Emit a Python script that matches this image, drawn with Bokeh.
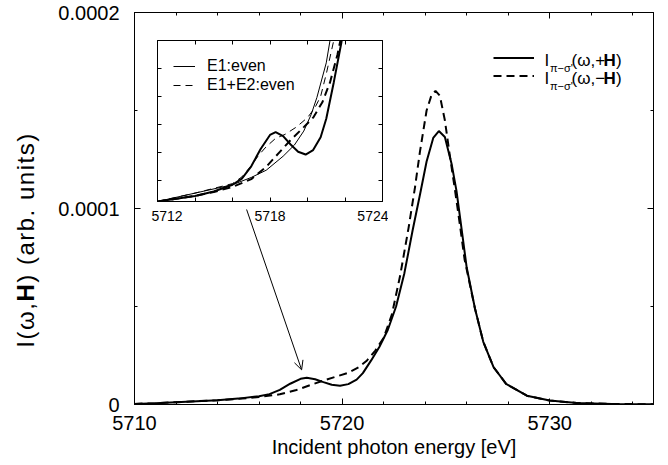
import numpy as np
from bokeh.plotting import figure
from bokeh.models import (Range1d, LinearAxis, FixedTicker, Legend, LegendItem, Label,
                          Arrow, OpenHead, CustomJSTickFormatter, CustomLabelingPolicy, Div)
from bokeh.embed import file_html
from bokeh.resources import INLINE

# ---------------- data (intensity in units of 1e-5) ----------------
SCALE = 1e-5
E_plus = [5710.0, 5711.0, 5712.0, 5713.0, 5714.0, 5715.0, 5716.0, 5716.5, 5717.0, 5717.5,
          5718.0, 5718.3, 5718.7, 5719.1, 5719.5, 5719.9, 5720.3, 5720.7, 5721.0, 5721.4,
          5721.8, 5722.2, 5722.6, 5723.0, 5723.4, 5723.75, 5724.07, 5724.39, 5724.66, 5724.95,
          5725.27, 5725.51, 5725.75, 5726.0, 5726.4, 5726.8, 5727.3, 5727.9, 5728.9, 5730.0,
          5731.3, 5733.0, 5735.0]
I_plus = [0.03, 0.07, 0.12, 0.17, 0.22, 0.30, 0.42, 0.53, 0.75, 1.06,
          1.31, 1.36, 1.29, 1.14, 1.01, 0.96, 1.04, 1.27, 1.60, 2.25,
          2.95, 3.80, 5.00, 6.70, 8.90, 10.7, 12.4, 13.6, 13.95, 13.65,
          12.3, 10.9, 9.0, 7.0, 4.9, 3.2, 1.9, 1.05, 0.45, 0.20,
          0.08, 0.03, 0.01]

E_minus = [5710.0, 5711.0, 5712.0, 5713.0, 5714.0, 5715.0, 5716.0, 5717.0, 5717.8, 5718.5,
           5719.1, 5719.8, 5720.3, 5720.8, 5721.2, 5721.6, 5722.0, 5722.4, 5722.8, 5723.2,
           5723.5, 5723.75, 5724.07, 5724.31, 5724.5, 5724.71, 5724.95, 5725.19, 5725.43, 5725.67,
           5725.9, 5726.4, 5726.8, 5727.3, 5727.9, 5728.9, 5730.0, 5731.3, 5733.0, 5735.0]
I_minus = [0.03, 0.07, 0.12, 0.17, 0.22, 0.29, 0.38, 0.52, 0.74, 1.00,
           1.22, 1.45, 1.62, 1.90, 2.25, 2.75, 3.40, 4.60, 6.60, 9.00,
           11.0, 12.9, 15.0, 15.8, 16.0, 15.75, 14.5, 12.7, 11.0, 9.2,
           7.4, 4.9, 3.2, 1.9, 1.05, 0.45, 0.20, 0.08, 0.03, 0.01]

# inset-only curves
E_e1 = [5712.0, 5714.0, 5716.0, 5717.0, 5717.8, 5718.7, 5719.3, 5719.8, 5720.2, 5720.5,
        5721.0, 5721.2, 5721.5]
I_e1 = [0.12, 0.27, 0.42, 0.55, 0.68, 0.93, 1.13, 1.38, 1.68, 1.98,
        2.60, 3.00, 3.60]
E_e12 = [5712.0, 5714.0, 5716.0, 5716.5, 5717.0, 5717.4, 5717.8, 5718.3, 5718.8, 5719.4,
         5720.0, 5720.4, 5720.7, 5721.0, 5721.4, 5721.7]
I_e12 = [0.12, 0.27, 0.44, 0.56, 0.76, 0.95, 1.10, 1.25, 1.32, 1.45,
         1.62, 1.80, 2.00, 2.40, 3.00, 3.60]

X_MAJOR = [5710, 5720, 5730]
X_MINOR = [5712, 5714, 5716, 5718, 5722, 5724, 5726, 5728, 5732, 5734]
Y_MAJOR = [0.0, 1e-4, 2e-4]
Y_MINOR = [5e-5, 1.5e-4]
IX_MAJOR = [5712, 5718, 5724]
IX_MINOR = [5714, 5716, 5720, 5722]
IY_TICKS = [0.5e-5, 1.0e-5, 1.5e-5, 2.0e-5, 2.5e-5]

FONT = "Liberation Sans"

yp = [v * SCALE for v in I_plus]
ym = [v * SCALE for v in I_minus]
ye1 = [v * SCALE for v in I_e1]
ye12 = [v * SCALE for v in I_e12]


def style_axis(ax, ticker, labels=True, size="20px", major_in=6, minor_in=3, standoff=10):
    ax.ticker = ticker
    ax.axis_line_color = "black"
    ax.axis_line_width = 1
    ax.major_tick_in = major_in
    ax.major_tick_out = 0
    ax.minor_tick_in = minor_in
    ax.minor_tick_out = 0
    ax.major_tick_line_color = "black"
    ax.minor_tick_line_color = "black"
    ax.major_label_text_font = FONT
    ax.major_label_text_color = "black"
    if labels:
        ax.major_label_text_font_size = size
        ax.major_label_standoff = standoff
    else:
        ax.major_label_policy = CustomLabelingPolicy(code="return new Set()")
        ax.major_label_text_font_size = "0px"
        ax.major_label_standoff = 0


# ---------------- main figure ----------------
p = figure(width=668, height=465, x_range=Range1d(5710, 5735), y_range=Range1d(0, 2e-4),
           output_backend="svg", toolbar_location=None,
           min_border_left=134, min_border_right=15, min_border_top=12, min_border_bottom=61)
p.grid.visible = False
p.outline_line_color = "black"
p.background_fill_color = "white"
p.border_fill_color = "white"

xt = FixedTicker(ticks=X_MAJOR, minor_ticks=X_MINOR)
yt = FixedTicker(ticks=Y_MAJOR, minor_ticks=Y_MINOR)

style_axis(p.xaxis[0], xt, standoff=11)
p.xaxis[0].axis_label = "Incident photon energy [eV]"
p.xaxis[0].axis_label_text_font = FONT
p.xaxis[0].axis_label_text_font_size = "20px"
p.xaxis[0].axis_label_text_font_style = "normal"
p.xaxis[0].axis_label_text_color = "black"
p.xaxis[0].axis_label_standoff = 3

style_axis(p.yaxis[0], yt, standoff=15)
p.yaxis[0].formatter = CustomJSTickFormatter(code="return tick == 0 ? '0' : tick.toFixed(4);")

top_ax = LinearAxis()
style_axis(top_ax, xt, labels=False)
p.add_layout(top_ax, "above")
right_ax = LinearAxis()
style_axis(right_ax, yt, labels=False)
p.add_layout(right_ax, "right")

r_plus = p.line(E_plus, yp, line_color="black", line_width=2)
r_minus = p.line(E_minus, ym, line_color="black", line_width=2, line_dash="8 5")

main_leg = Legend(items=[LegendItem(label=" ", renderers=[r_plus]),
                         LegendItem(label=" ", renderers=[r_minus])],
                  location=(359, 321), glyph_width=41, glyph_height=15, label_height=15,
                  spacing=3, padding=0, margin=0, label_standoff=0, label_width=0,
                  label_text_font_size="10px", border_line_color=None,
                  background_fill_alpha=0)
p.add_layout(main_leg)

# legend texts  I_{pi-sigma'}(omega,+H)
for row_y, sign in ((344, "+"), (326, "\u2212")):
    p.add_layout(Label(x=410, y=row_y, x_units="screen", y_units="screen", text="I",
                       text_font=FONT, text_font_size="17px", text_baseline="middle",
                       text_color="black"))
    p.add_layout(Label(x=415.5, y=row_y - 7, x_units="screen", y_units="screen",
                       text="\u03c0\u2212\u03c3'", text_font=FONT, text_font_size="11px",
                       text_baseline="middle", text_color="black"))
    p.add_layout(Label(x=437, y=row_y, x_units="screen", y_units="screen",
                       text="(\u03c9," + sign, text_font=FONT, text_font_size="17px",
                       text_baseline="middle", text_color="black"))
    p.add_layout(Label(x=469, y=row_y, x_units="screen", y_units="screen", text="H",
                       text_font=FONT, text_font_size="17px", text_font_style="bold",
                       text_baseline="middle", text_color="black"))
    p.add_layout(Label(x=481.5, y=row_y, x_units="screen", y_units="screen", text=")",
                       text_font=FONT, text_font_size="17px", text_baseline="middle",
                       text_color="black"))

# arrow from inset to the pre-edge feature
ARROW_START = (5715.4, 0.995e-4)
ARROW_END = (5718.05, 1.77e-5)
p.add_layout(Arrow(end=OpenHead(size=9, line_width=1, line_color="black"),
                   x_start=ARROW_START[0], y_start=ARROW_START[1],
                   x_end=ARROW_END[0], y_end=ARROW_END[1],
                   line_width=1, line_color="black"))

# ---------------- inset figure ----------------
ins = figure(width=225 + 12, height=161 + 6 + 28, x_range=Range1d(5712, 5724),
             y_range=Range1d(0.12e-5, 3.0e-5), output_backend="svg", toolbar_location=None,
             min_border_left=6, min_border_right=6, min_border_top=6, min_border_bottom=28,
             styles={"position": "absolute", "left": "151px", "top": "34px"})
ins.grid.visible = False
ins.outline_line_color = "black"
ins.background_fill_color = "white"
ins.border_fill_color = None
ixt = FixedTicker(ticks=IX_MAJOR, minor_ticks=IX_MINOR)
iyt = FixedTicker(ticks=IY_TICKS, minor_ticks=[])
style_axis(ins.xaxis[0], ixt, size="14px", major_in=4, minor_in=4, standoff=9)
style_axis(ins.yaxis[0], iyt, labels=False, major_in=4, minor_in=4)
it = LinearAxis()
style_axis(it, ixt, labels=False, major_in=4, minor_in=4)
ins.add_layout(it, "above")
ir = LinearAxis()
style_axis(ir, iyt, labels=False, major_in=4, minor_in=4)
ins.add_layout(ir, "right")

r_e1 = ins.line(E_e1, ye1, line_color="black", line_width=1)
r_e12 = ins.line(E_e12, ye12, line_color="black", line_width=1, line_dash="7 5")
ins.line(E_plus, yp, line_color="black", line_width=2)
ins.line(E_minus, ym, line_color="black", line_width=2, line_dash="8 5")

ins_leg = Legend(items=[LegendItem(label="E1:even", renderers=[r_e1]),
                        LegendItem(label="E1+E2:even", renderers=[r_e12])],
                 location=(16, 107), glyph_width=22, glyph_height=18, label_height=18,
                 spacing=1, padding=0, margin=0, label_standoff=12,
                 label_text_font=FONT, label_text_font_size="16px",
                 label_text_color="black",
                 border_line_color=None, background_fill_alpha=0)
ins.add_layout(ins_leg)

# y axis title with bold H (rotated HTML text)
YLAB_CX, YLAB_CY = 26, 240
ylab = Div(text=("<span style=\"font-family:'Liberation Sans';font-size:24px;"
                 "letter-spacing:1.5px;white-space:nowrap;color:black\">"
                 "I(\u03c9,<b>H</b>) (arb. units)</span>"),
           width=240, height=30,
           styles={"position": "absolute", "left": f"{YLAB_CX - 120}px",
                   "top": f"{YLAB_CY - 15}px", "transform": "rotate(-90deg)",
                   "transform-origin": "50% 50%", "text-align": "center",
                   "line-height": "30px", "margin": "0", "padding": "0"})

with open("out.html", "w", encoding="utf-8") as f:
    f.write(file_html([p, ins, ylab], INLINE))
